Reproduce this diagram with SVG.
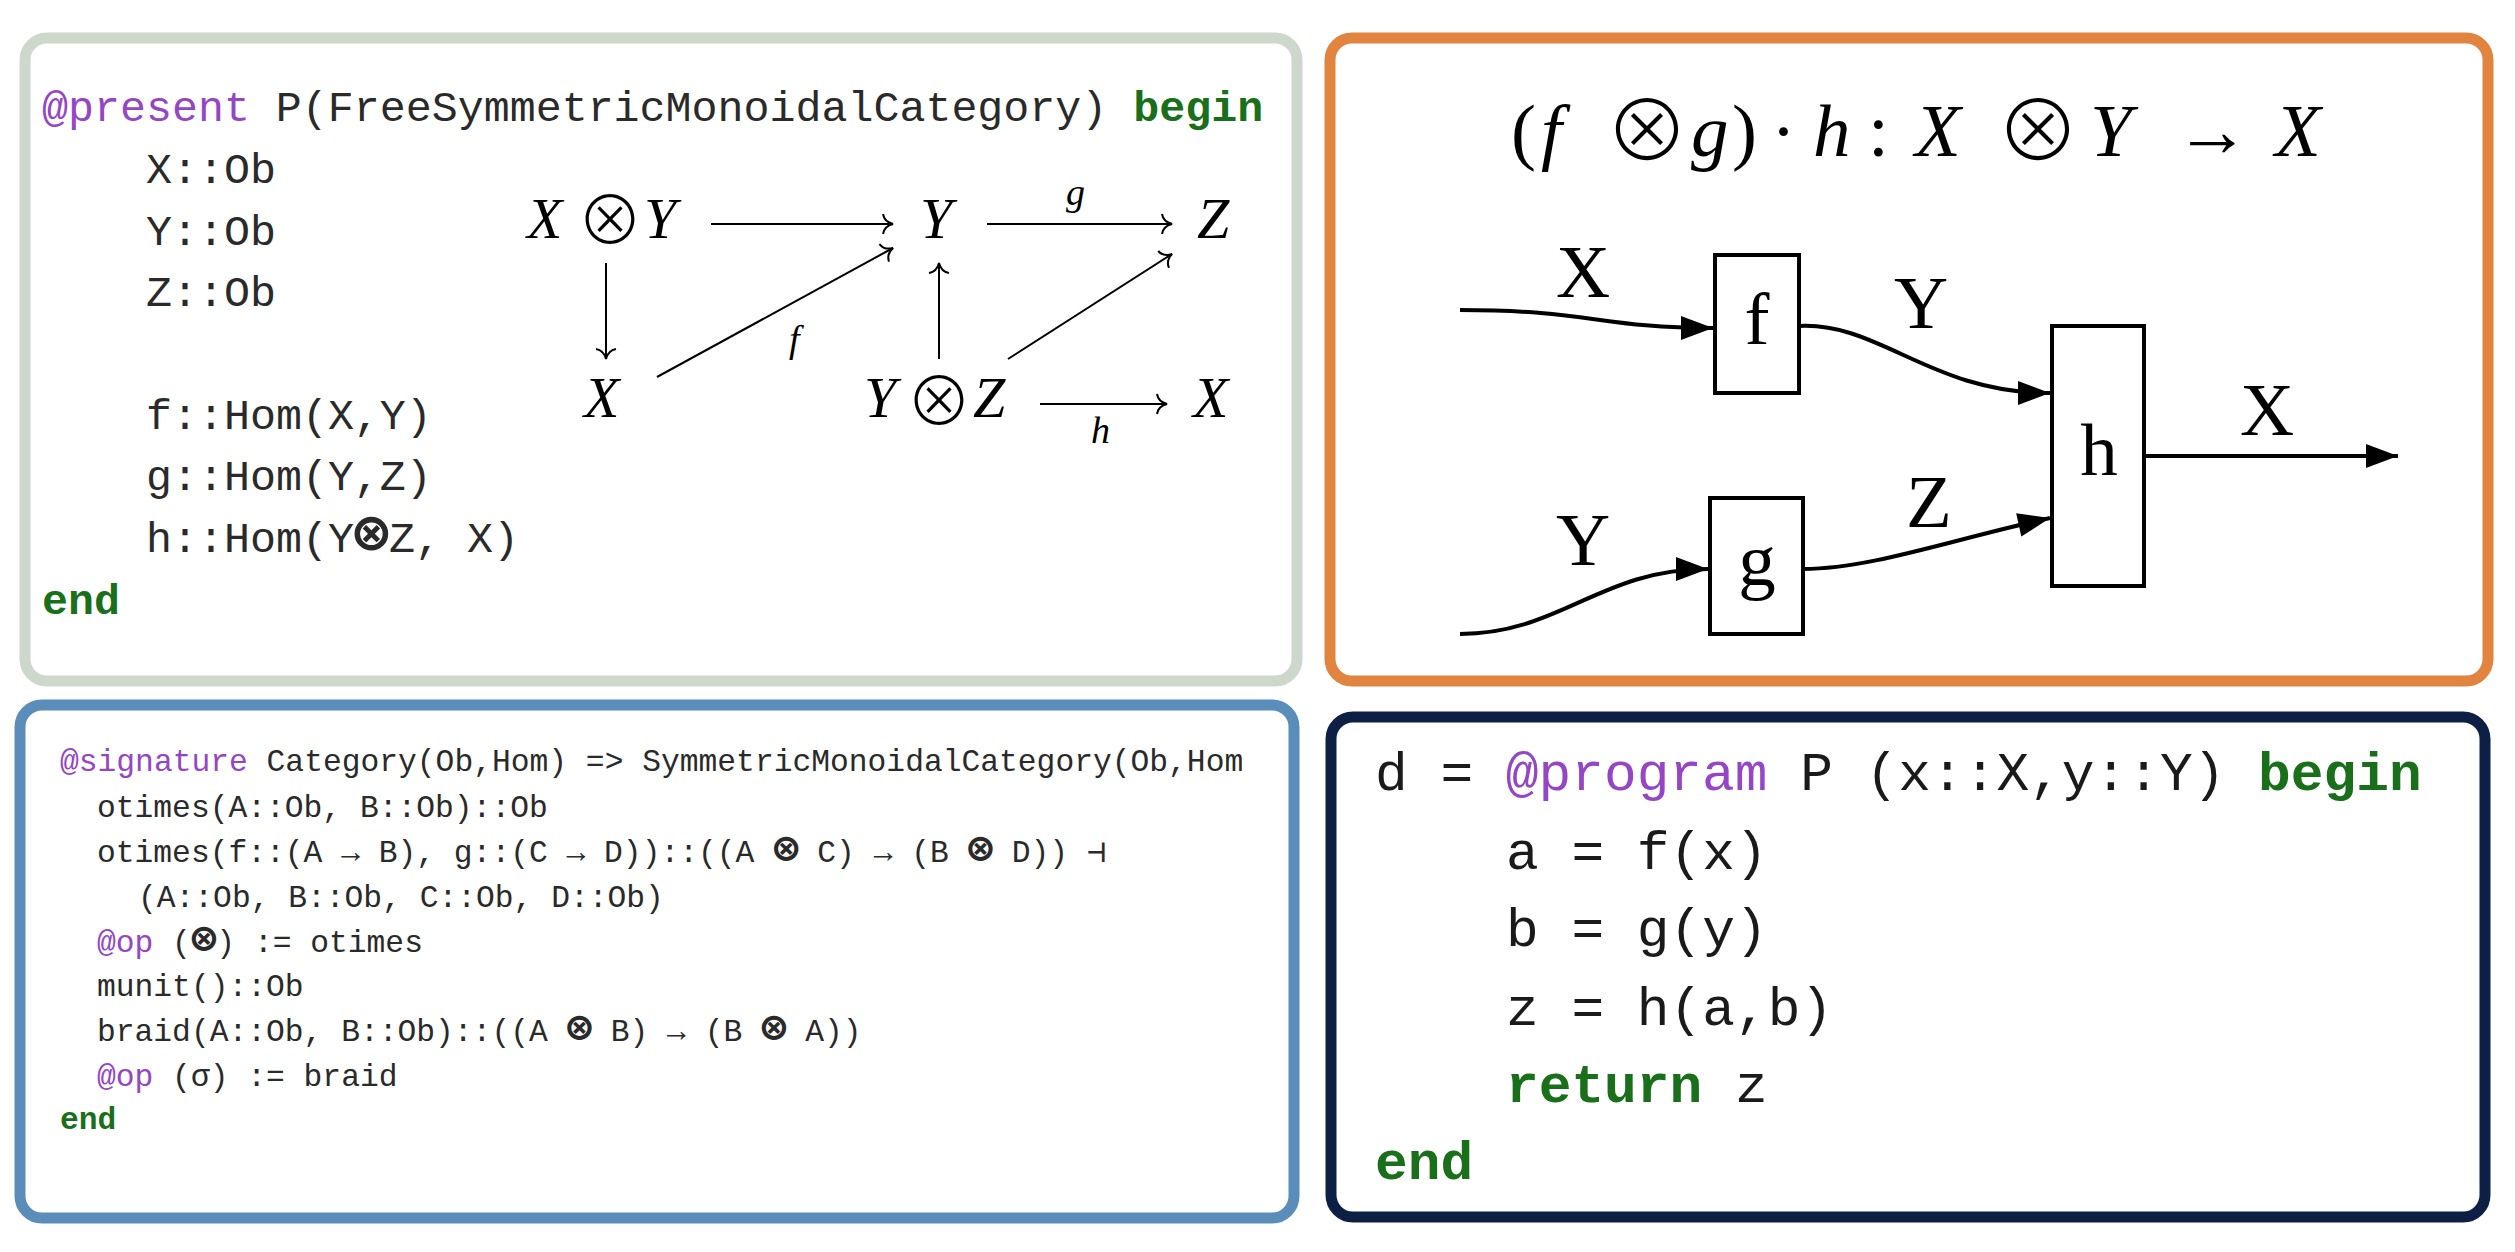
<svg xmlns="http://www.w3.org/2000/svg" width="2515" height="1252" viewBox="0 0 2515 1252">
<style>
.panel{fill:#fff;stroke-width:11}
.code{font-family:"Liberation Mono","DejaVu Sans Mono",monospace;fill:#2a2a2a}
.kw{fill:#9446c4}
.bk{fill:#1a6f1a;font-weight:bold}
.mi{font-family:"Liberation Serif","DejaVu Serif",serif;font-style:italic;fill:#000}
.mu{font-family:"Liberation Serif","DejaVu Serif",serif;fill:#000}
.ot{font-family:"Noto Sans CJK JP","DejaVu Sans",sans-serif;fill:#000;font-weight:200}
.mot{font-family:"DejaVu Sans Mono",monospace;font-weight:bold;font-size:135%}
.cd{stroke:#000;stroke-width:2;fill:none;marker-end:url(#hook)}
.wire{stroke:#000;stroke-width:4;fill:none;marker-end:url(#tri)}
.box{fill:#fff;stroke:#000;stroke-width:4}
.lbl{font-family:"Liberation Serif","DejaVu Serif",serif;fill:#000;font-size:75px}
</style>
<defs>
<marker id="hook" markerUnits="userSpaceOnUse" viewBox="-14 -13 16 26" refX="0" refY="0" markerWidth="16" markerHeight="26" orient="auto" overflow="visible">
<path d="M -10,-10 C -9,-4 -4,-1 0,0 C -4,1 -9,4 -10,10" fill="none" stroke="#000" stroke-width="2"/>
</marker>
<marker id="tri" markerUnits="userSpaceOnUse" viewBox="-34 -14 36 28" refX="0" refY="0" markerWidth="36" markerHeight="28" orient="auto" overflow="visible">
<path d="M -32,-12 L 0,0 L -32,12 Z" fill="#000"/>
</marker>
<clipPath id="p3clip"><rect x="20" y="705" width="1222" height="513"/></clipPath>
</defs>

<g id="panel-present">
<rect class="panel" x="25" y="38" width="1272" height="643" rx="22" stroke="#cdd7ca"/>
<g class="code" font-size="43.3">
<text x="42" y="121"><tspan class="kw">@present</tspan> P(FreeSymmetricMonoidalCategory) <tspan class="bk">begin</tspan></text>
<text x="146" y="183">X::Ob</text>
<text x="146" y="245">Y::Ob</text>
<text x="146" y="306">Z::Ob</text>
<text x="146" y="429">f::Hom(X,Y)</text>
<text x="146" y="490">g::Hom(Y,Z)</text>
<text x="146" y="552">h::Hom(Y<tspan class="mot">⊗</tspan>Z, X)</text>
<text x="42" y="614" class="bk">end</text>
</g>
</g>

<g id="panel-string">
<rect class="panel" x="1330" y="38" width="1158" height="643" rx="22" stroke="#e0843f"/>
<g font-size="75">
<text class="mu" x="1511" y="156">(</text>
<text class="mi" x="1541" y="156">f</text>
<text class="ot" x="1605" y="161" font-size="84">⊗</text>
<text class="mi" x="1691" y="156">g</text>
<text class="mu" x="1732" y="156">)</text>
<text class="mu" x="1771" y="156">·</text>
<text class="mi" x="1813" y="156">h</text>
<text class="mu" x="1868" y="156">:</text>
<text class="mi" x="1915" y="156">X</text>
<text class="ot" x="1996" y="161" font-size="84">⊗</text>
<text class="mi" x="2090" y="156">Y</text>
<text class="mu" x="2175" y="156">→</text>
<text class="mi" x="2275" y="156">X</text>
</g>
</g>

<g id="panel-signature">
<rect class="panel" x="20" y="705" width="1274" height="513" rx="22" stroke="#5b8dba"/>
<g class="code" font-size="31.3">
<text x="60" y="771" clip-path="url(#p3clip)"><tspan class="kw">@signature</tspan> Category(Ob,Hom) =&gt; SymmetricMonoidalCategory(Ob,Hom)</text>
<text x="97" y="817">otimes(A::Ob, B::Ob)::Ob</text>
<text x="97" y="862">otimes(f::(A → B), g::(C → D))::((A <tspan class="mot">⊗</tspan> C) → (B <tspan class="mot">⊗</tspan> D)) ⊣</text>
<text x="138" y="907">(A::Ob, B::Ob, C::Ob, D::Ob)</text>
<text x="97" y="952"><tspan class="kw">@op</tspan> (<tspan class="mot">⊗</tspan>) := otimes</text>
<text x="97" y="996">munit()::Ob</text>
<text x="97" y="1041">braid(A::Ob, B::Ob)::((A <tspan class="mot">⊗</tspan> B) → (B <tspan class="mot">⊗</tspan> A))</text>
<text x="97" y="1086"><tspan class="kw">@op</tspan> (σ) := braid</text>
<text x="60" y="1129" class="bk">end</text>
</g>
</g>

<g id="panel-program">
<rect class="panel" x="1331" y="717" width="1154" height="500" rx="22" stroke="#0e1f45"/>
<g class="code" font-size="54.5" style="fill:#1a1a1a">
<text x="1375" y="790">d = <tspan class="kw">@program</tspan> P (x::X,y::Y) <tspan class="bk">begin</tspan></text>
<text x="1506" y="869">a = f(x)</text>
<text x="1506" y="946">b = g(y)</text>
<text x="1506" y="1025">z = h(a,b)</text>
<text x="1506" y="1102"><tspan class="bk">return</tspan> z</text>
<text x="1375" y="1179" class="bk">end</text>
</g>
</g>

<g id="cd-XY">
<text class="mi" x="527" y="238" font-size="58">X</text>
<text class="ot" x="577" y="244" font-size="66">⊗</text>
<text class="mi" x="644" y="238" font-size="58">Y</text>
</g>
<g id="cd-Y"><text class="mi" x="920" y="238" font-size="58">Y</text></g>
<g id="cd-Z"><text class="mi" x="1197" y="238" font-size="58">Z</text></g>
<g id="cd-X1"><text class="mi" x="584" y="417" font-size="58">X</text></g>
<g id="cd-YZ">
<text class="mi" x="864" y="417" font-size="58">Y</text>
<text class="ot" x="906" y="425" font-size="66">⊗</text>
<text class="mi" x="973" y="417" font-size="58">Z</text>
</g>
<g id="cd-X2"><text class="mi" x="1193" y="417" font-size="58">X</text></g>

<g id="box-f">
<rect class="box" x="1715" y="255" width="84" height="138"/>
<text class="lbl" x="1757" y="344" text-anchor="middle">f</text>
</g>
<g id="box-g">
<rect class="box" x="1710" y="498" width="93" height="136"/>
<text class="lbl" x="1757" y="585" text-anchor="middle">g</text>
</g>
<g id="box-h">
<rect class="box" x="2052" y="326" width="92" height="260"/>
<text class="lbl" x="2099" y="475" text-anchor="middle">h</text>
</g>

<g id="connectors">
<line class="cd" x1="711" y1="224" x2="893" y2="224"/>
<line class="cd" x1="987" y1="224" x2="1172" y2="224"/>
<line class="cd" x1="606" y1="263" x2="606" y2="359"/>
<line class="cd" x1="657" y1="377" x2="893" y2="248"/>
<line class="cd" x1="939" y1="359" x2="939" y2="263"/>
<line class="cd" x1="1008" y1="359" x2="1172" y2="254"/>
<line class="cd" x1="1040" y1="404" x2="1167" y2="404"/>
<text class="mi" x="1066" y="205" font-size="38">g</text>
<text class="mi" x="789" y="352" font-size="38">f</text>
<text class="mi" x="1091" y="443" font-size="38">h</text>

<path class="wire" d="M 1460,310 C 1590,310 1600,328 1713,328"/>
<path class="wire" d="M 1799,326 C 1880,322 1930,393 2050,393"/>
<path class="wire" d="M 1460,634 C 1560,634 1600,569 1708,569"/>
<path class="wire" d="M 1803,569 C 1870,569 1950,540 2050,518"/>
<path class="wire" d="M 2144,456 L 2398,456"/>
<text class="lbl" x="1556" y="297">X</text>
<text class="lbl" x="1894" y="328">Y</text>
<text class="lbl" x="1556" y="565">Y</text>
<text class="lbl" x="1906" y="527">Z</text>
<text class="lbl" x="2240" y="435">X</text>
</g>
</svg>
